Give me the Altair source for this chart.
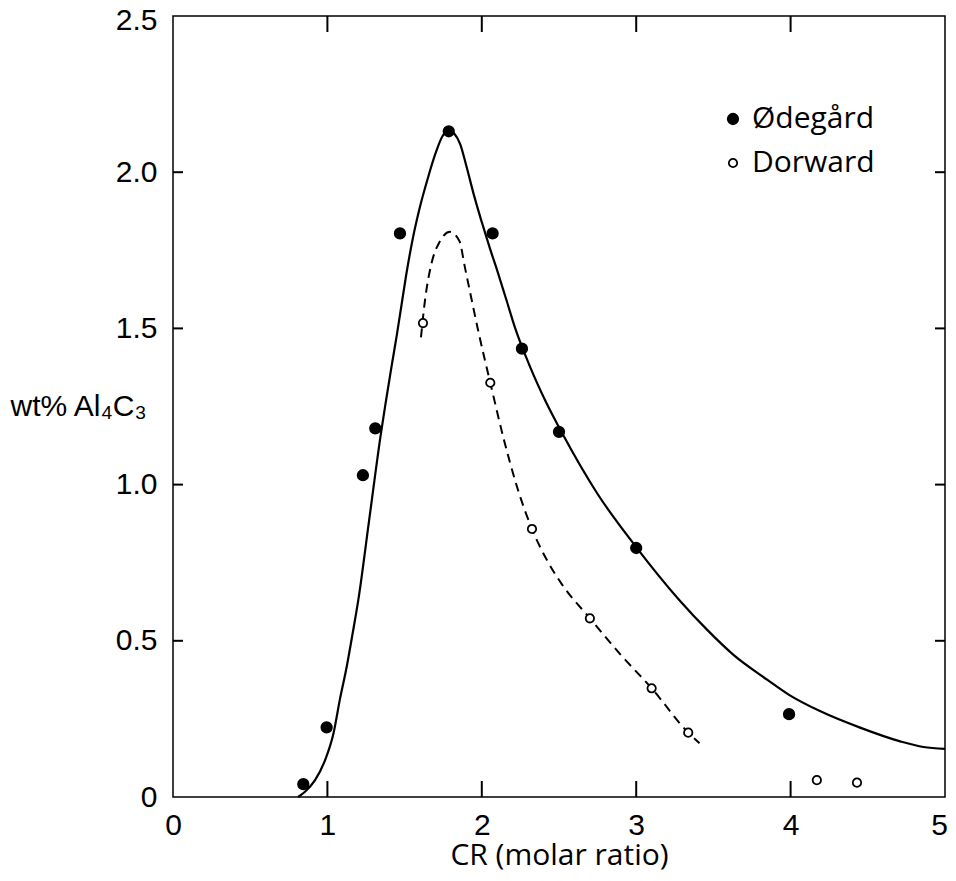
import altair as alt
import pandas as pd

# ---- data ----
series = ["Ødegård", "Dorward"]

ode_cr = [0.844, 0.995, 1.23, 1.31, 1.47, 1.786, 2.07, 2.26, 2.50, 3.0, 3.99]
ode_wt = [0.041, 0.223, 1.03, 1.18, 1.804, 2.131, 1.804, 1.435, 1.169, 0.797, 0.265]

dor_cr = [1.619, 2.055, 2.325, 2.70, 3.10, 3.337, 4.17, 4.43]
dor_wt = [1.517, 1.326, 0.858, 0.572, 0.348, 0.206, 0.054, 0.046]

# solid fitted curve (Ødegård)
solid_cr = [0.81, 0.855, 0.92, 0.985, 1.04, 1.08, 1.125, 1.164, 1.20, 1.27, 1.347,
            1.38, 1.415, 1.45, 1.48, 1.51, 1.55, 1.60, 1.65, 1.70, 1.745, 1.786,
            1.82, 1.86, 1.90, 1.95, 2.00, 2.05, 2.10, 2.16, 2.22, 2.31, 2.41, 2.52,
            2.75, 3.0, 3.28, 3.46, 3.63, 3.85, 3.99, 4.19, 4.45, 4.71, 4.86, 5.0]
solid_wt = [0.0, 0.017, 0.054, 0.118, 0.205, 0.31, 0.417, 0.525, 0.63, 0.885, 1.165,
            1.27, 1.377, 1.48, 1.575, 1.67, 1.78, 1.89, 1.98, 2.06, 2.115, 2.135,
            2.125, 2.09, 2.02, 1.925, 1.84, 1.76, 1.685, 1.59, 1.495, 1.38, 1.27, 1.165,
            0.97, 0.80, 0.63, 0.535, 0.455, 0.375, 0.327, 0.275, 0.222, 0.178, 0.16, 0.154]

# dashed fitted curve (Dorward)
dash_cr = [1.606, 1.632, 1.669, 1.73, 1.794, 1.855, 1.89, 1.935, 1.98, 2.055, 2.14,
           2.23, 2.325, 2.42, 2.52, 2.70, 2.9, 3.10, 3.337, 3.41]
dash_wt = [1.471, 1.59, 1.697, 1.78, 1.809, 1.78, 1.697, 1.59, 1.485, 1.326, 1.15,
           0.99, 0.858, 0.76, 0.68, 0.572, 0.455, 0.348, 0.206, 0.172]

x_labels = [0, 1, 2, 3, 4, 5]
y_labels = [0, 0.5, 1.0, 1.5, 2.0, 2.5]
x_inner_ticks = [1, 2, 3, 4]
y_inner_ticks = [0.5, 1.0, 1.5, 2.0]

W, H = 772, 781

# ---- encodings shared by every layer ----
xs = alt.Scale(domain=[0, 5], nice=False, zero=False)
ys = alt.Scale(domain=[0, 2.5], nice=False, zero=False)

x_axis = alt.Axis(values=x_labels, format="d", labelFont="Liberation Sans",
                  labelFontSize=30, labelColor="black", labelPadding=13,
                  labelFlush=False, ticks=False, tickSize=0, domain=False, grid=False,
                  labelOffset={"condition": {"test": "datum.value == 5", "value": -6},
                               "value": 0},
                  title="CR (molar ratio)", titleFont="Open Sans", titleFontSize=30,
                  titleFontWeight="normal", titleColor="black", titleY=67,
                  titleBaseline="alphabetic")
y_axis = alt.Axis(values=y_labels,
                  labelExpr="datum.value == 0 ? '0' : format(datum.value, '.1f')",
                  labelFont="Liberation Sans", labelFontSize=30, labelColor="black",
                  labelPadding=16, labelFlush=False, ticks=False, tickSize=0,
                  labelOffset={"condition": {"test": "datum.value == 2.5", "value": 4},
                               "value": 0},
                  domain=False, grid=False,
                  title="wt% Al₄C₃", titleFont="Liberation Sans", titleFontSize=30,
                  titleFontWeight="normal", titleColor="black", titleAngle=0,
                  titleAlign="left", titleBaseline="alphabetic", titleX=-163, titleY=399)

X = alt.X("cr:Q", scale=xs, axis=x_axis)
Y = alt.Y("wt:Q", scale=ys, axis=y_axis)

solid_df = pd.DataFrame({"cr": solid_cr, "wt": solid_wt})
dash_df = pd.DataFrame({"cr": dash_cr, "wt": dash_wt})
pts_df = pd.DataFrame({
    "cr": ode_cr + dor_cr,
    "wt": ode_wt + dor_wt,
    "src": [series[0]] * len(ode_cr) + [series[1]] * len(dor_cr),
})

solid = alt.Chart(solid_df).mark_line(color="black", strokeWidth=2.2,
                                      interpolate="monotone").encode(x=X, y=Y)
dashed = alt.Chart(dash_df).mark_line(color="black", strokeWidth=2,
                                      strokeDash=[9, 6],
                                      interpolate="monotone").encode(x=X, y=Y)

leg = alt.Legend(title=None, orient="none", legendX=545, legendY=88,
                 labelFont="Open Sans", labelFontSize=30, labelColor="black",
                 symbolType="circle", symbolStrokeWidth=1.8,
                 rowPadding=14, labelOffset=4)

points = alt.Chart(pts_df).mark_circle(strokeWidth=1.8, opacity=1).encode(
    x=X, y=Y,
    fill=alt.Fill("src:N", scale=alt.Scale(domain=series, range=["black", "white"]),
                  legend=leg),
    stroke=alt.Stroke("src:N", scale=alt.Scale(domain=series, range=["black", "black"]),
                      legend=leg),
    size=alt.Size("src:N", scale=alt.Scale(domain=series, range=[110, 70]),
                  legend=leg),
)

xt_df = pd.DataFrame({"cr": x_inner_ticks})
yt_df = pd.DataFrame({"wt": y_inner_ticks})
tick_style = dict(color="black", strokeWidth=2)
xt_bottom = alt.Chart(xt_df).mark_rule(**tick_style).encode(
    x=X, y=alt.value(H), y2=alt.value(H - 16))
xt_top = alt.Chart(xt_df).mark_rule(**tick_style).encode(
    x=X, y=alt.value(0), y2=alt.value(16))
yt_left = alt.Chart(yt_df).mark_rule(**tick_style).encode(
    y=Y, x=alt.value(0), x2=alt.value(10))
yt_right = alt.Chart(yt_df).mark_rule(**tick_style).encode(
    y=Y, x=alt.value(W - 10), x2=alt.value(W))

chart = alt.layer(
    xt_bottom, xt_top, yt_left, yt_right, solid, dashed, points
).properties(
    width=W, height=H,
    autosize=alt.AutoSizeParams(type="none"),
    padding={"left": 165, "top": 8, "right": 3, "bottom": 74},
    background="white",
).configure_view(
    stroke="black", strokeWidth=1.5
)

chart.save("out.html", embed_options={"renderer": "svg", "actions": False})
